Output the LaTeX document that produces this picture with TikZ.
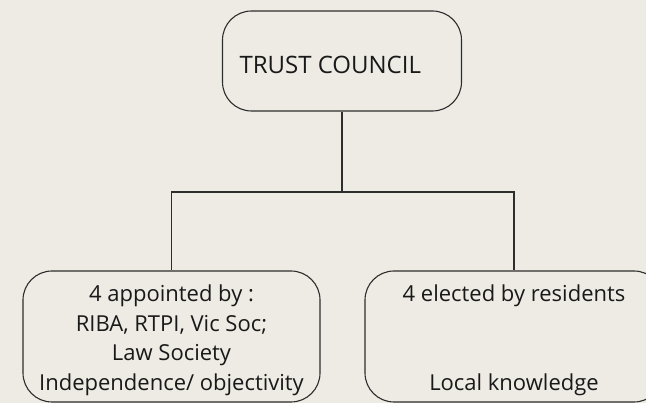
\documentclass[tikz,border=0pt]{standalone}
\usepackage{fontspec}
\setmainfont{Open Sans}
\usepackage{tikz}
\usetikzlibrary{shapes,arrows}
\definecolor{paper}{RGB}{238,235,228}
\definecolor{ink}{RGB}{45,45,45}

\begin{document}
\begin{tikzpicture}[x=1pt,y=-1pt]

\tikzstyle{every node}=[font=\fontsize{22}{29.5}\selectfont, text=black!90]
\tikzstyle{rbox}=[draw=ink, line width=1.1pt, rounded corners=29pt, inner sep=0pt]

\fill[paper] (0,0) rectangle (646,403);
\clip (0,0) rectangle (646,403);

% council
\node [rbox, minimum width=239pt, minimum height=100pt] (council) at (342,61) {};
\node [anchor=west, font=\fontsize{24}{30}\selectfont] (councilname) at (236,65) {TRUST COUNCIL};

% members
\node [rbox, minimum width=297pt, minimum height=131pt] (appointed) at (171.5,336.5) {};
\node [align=center, yshift=-4pt] (appointedtext) at (appointed.center)
  {4 appointed by :\\ RIBA, RTPI, Vic Soc;\\ Law Society\\ Independence/ objectivity};
\node [rbox, minimum width=298pt, minimum height=131pt] (elected) at (514,336.5) {};
\node [align=center, yshift=-4pt] (electedtext) at (elected.center)
  {4 elected by residents\\ ~\\ ~\\ Local knowledge};

% lines
\coordinate (split) at (342,192);
\draw[ink, line width=1.1pt] (council.south) -- (split);
\draw[ink, line width=1.1pt] (appointed.north) |- (split) -| (elected.north);

\end{tikzpicture}
\end{document}
